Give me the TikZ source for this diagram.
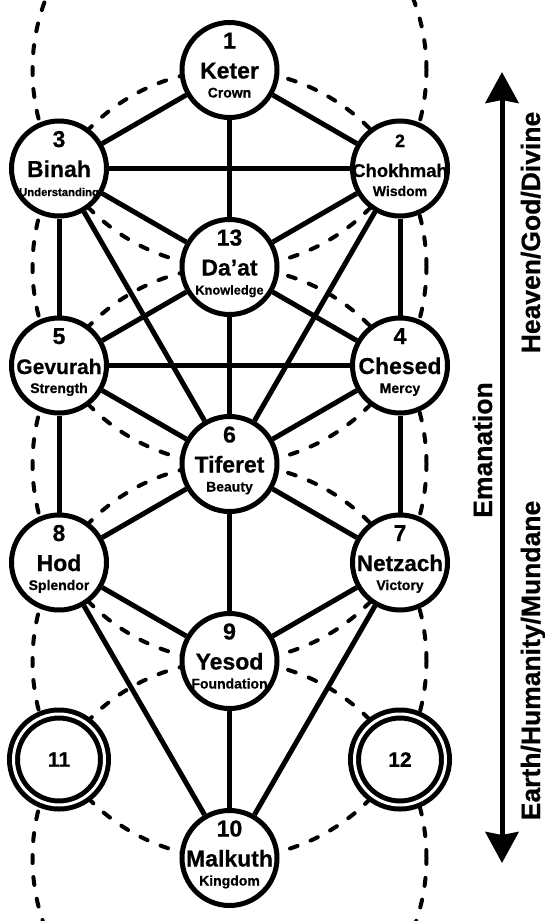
\documentclass[tikz,border=0pt]{standalone}
\usepackage{fontspec}
\setmainfont{Liberation Sans}[BoldFeatures={FakeBold=0.6}]
\usetikzlibrary{arrows.meta}
\usetikzlibrary{backgrounds}

\begin{document}
\begin{tikzpicture}[x=1pt,y=-1pt,
	sefira/.style={circle,draw,fill=white,line width=5pt,minimum size=95pt,inner sep=0pt},
	gate/.style={circle,draw,fill=white,double,double distance=3pt,line width=5pt,
		minimum size=91pt,inner sep=0pt,font=\bfseries\fontsize{21}{21}\selectfont},
	label text/.style={anchor=base,inner sep=0pt},
	link/.style={every edge/.style={draw,line width=5pt}},
	veil/.style={line width=4pt,line cap=round,dash pattern=on 8pt off 14pt},
	side text/.style={anchor=base,rotate=90,inner sep=0pt,font=\bfseries\fontsize{26.5}{26.5}\selectfont}]
	
	\useasboundingbox (0,0) rectangle (545,921);
	
	% the sefirot: id, position, number, name, meaning, font sizes
	\foreach \id/\x/\y/\n/\sname/\smean/\ns/\ts/\ss in {
		keter/229.5/70/1/Keter/Crown/23/23/14,
		chokhmah/400/168.5/2/Chokhmah/Wisdom/18/18.5/14,
		binah/59/168.5/3/Binah/Understanding/23/23/11.3,
		daat/229.5/267/13/Da’at/Knowledge/23/23/12.8,
		chesed/400/365.5/4/Chesed/Mercy/23/23/14,
		gevurah/59/365.5/5/Gevurah/Strength/23/21/14,
		tiferet/229.5/464/6/Tiferet/Beauty/23/23/14,
		netzach/400/562.5/7/Netzach/Victory/23/22.5/14,
		hod/59/562.5/8/Hod/Splendor/23/23/14,
		yesod/229.5/661/9/Yesod/Foundation/23/23/14,
		malkuth/229.5/858/10/Malkuth/Kingdom/23/23/14}
	{
		\node[sefira] (\id) at (\x,\y) {};
		\node[label text,font=\bfseries\fontsize{\ns}{\ns}\selectfont] (\id-num) at ([yshift=21.5pt]\id.center) {\n};
		\node[label text,font=\bfseries\fontsize{\ts}{\ts}\selectfont] (\id-name) at ([yshift=-8.5pt]\id.center) {\sname};
		\node[label text,font=\bfseries\fontsize{\ss}{\ss}\selectfont] (\id-mean) at ([yshift=-27.5pt]\id.center) {\smean};
	}
	
	\node[gate] (gate11) at (59,759.5) {11};
	\node[gate] (gate12) at (400,759.5) {12};
	
	% paths
	\path[link] (keter) edge (chokhmah) edge (binah) edge (daat)
		(binah) edge (chokhmah) edge (daat) edge (gevurah) edge (tiferet)
		(chokhmah) edge (daat) edge (chesed) edge (tiferet)
		(daat) edge (gevurah) edge (chesed) edge (tiferet)
		(gevurah) edge (chesed) edge (tiferet) edge (hod)
		(chesed) edge (tiferet) edge (netzach)
		(tiferet) edge (hod) edge (netzach) edge (yesod)
		(hod) edge (yesod) edge (malkuth)
		(netzach) edge (yesod) edge (malkuth)
		(yesod) edge (malkuth);
	
	% dashed circles behind everything
	\begin{scope}[on background layer]
		\fill[white] (0,0) rectangle (545,921);
		\clip (0,0) rectangle (545,921);
		\foreach \c in {keter,daat,tiferet,yesod,malkuth}
			\draw[veil] (\c) circle[radius=197pt];
	\end{scope}
	
	% emanation arrow
	\coordinate (heaven) at (502,72);
	\coordinate (earth) at (502,863);
	\draw[line width=5pt,{Stealth[length=31pt,width=33pt,inset=3pt]}-{Stealth[length=31pt,width=33pt,inset=3pt]}] (earth) -- (heaven);
	
	\node[side text] (heaven-text) at (540,232.5) {Heaven/God/Divine};
	\node[side text] (emanation) at (492,450) {Emanation};
	\node[side text] (earth-text) at (540,660.5) {Earth/Humanity/Mundane};
\end{tikzpicture}
\end{document}
